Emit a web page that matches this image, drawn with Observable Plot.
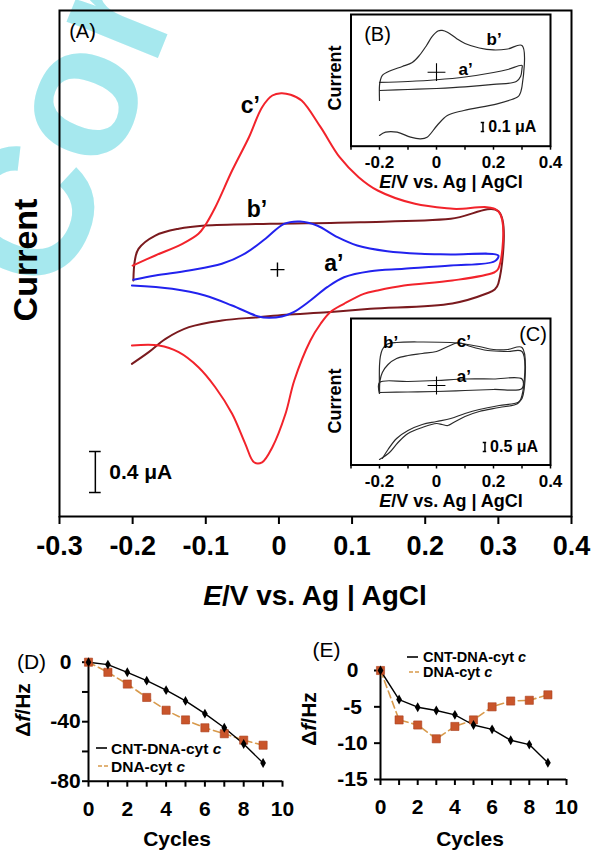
<!DOCTYPE html>
<html><head><meta charset="utf-8">
<script src="https://cdn.jsdelivr.net/npm/d3@7"></script>
<script src="https://cdn.jsdelivr.net/npm/@observablehq/plot@0.6"></script>
<style>
body{margin:0;background:#fff;}
#wrap{position:relative;width:591px;height:850px;overflow:hidden;background:#fff;}
#wrap > div{position:absolute;}
#wrap svg{overflow:visible;}
</style></head><body><div id="wrap"></div>
<script>
// ---------- Panel A: cyclic voltammograms (E in V, I in μA) ----------
const redE = [-0.200,-0.169,-0.132,-0.110,-0.101,-0.087,-0.064,-0.041,-0.023,-0.009,0.003,0.016,0.031,0.057,0.083,0.109,0.135,0.186,0.238,0.300,0.300,0.294,0.237,0.171,0.135,0.116,0.089,0.070,0.057,0.043,0.021,0.009,-0.009,-0.023,-0.034,-0.046,-0.064,-0.087,-0.110,-0.137,-0.164,-0.201];
const redI = [-0.020,0.078,0.192,0.290,0.371,0.549,0.907,1.232,1.525,1.639,1.661,1.646,1.590,1.330,1.037,0.842,0.712,0.582,0.534,0.510,-0.050,-0.088,-0.166,-0.215,-0.263,-0.296,-0.393,-0.475,-0.588,-0.751,-1.141,-1.466,-1.792,-1.939,-1.939,-1.759,-1.466,-1.207,-1.012,-0.865,-0.800,-0.800];
const darkE = [-0.199,-0.197,-0.192,-0.169,-0.137,-0.101,-0.012,0.111,0.235,0.300,0.300,0.295,0.284,0.237,0.125,0.066,0.009,-0.028,-0.078,-0.123,-0.155,-0.178,-0.201];
const darkI = [-0.166,0.029,0.143,0.273,0.339,0.371,0.387,0.403,0.436,0.510,-0.195,-0.254,-0.293,-0.390,-0.442,-0.475,-0.500,-0.524,-0.556,-0.621,-0.735,-0.865,-0.979];
const blueE = [-0.199,-0.169,-0.123,-0.078,-0.046,-0.018,0.007,0.029,0.052,0.080,0.107,0.148,0.194,0.235,0.300,0.295,0.235,0.171,0.125,0.089,0.066,0.043,0.020,0.004,-0.014,-0.028,-0.064,-0.101,-0.146,-0.201];
const blueI = [-0.159,-0.117,-0.068,-0.003,0.098,0.244,0.387,0.410,0.371,0.257,0.176,0.120,0.095,0.088,0.078,0.022,-0.020,-0.052,-0.075,-0.134,-0.231,-0.361,-0.475,-0.517,-0.530,-0.517,-0.410,-0.312,-0.247,-0.215];
const labelsA = [{E:-0.039, I:1.537, t:"c’"}, {E:-0.030, I:0.527, t:"b’"}, {E:0.075, I:-0.005, t:"a’"}];
const crossA = [{E:-0.002, I:-0.06}];
const scaleA = {E:-0.251, I0:-2.234, step:0.4, label:"0.4 μA", textE:-0.232};
const ticksA = [-0.3,-0.2,-0.1,0,0.1,0.2,0.3,0.4];

// ---------- Inset B ----------
const bBE = [-0.200,-0.200,-0.197,-0.190,-0.160,-0.120,-0.085,-0.060,-0.035,-0.015,0.005,0.020,0.040,0.070,0.100,0.150,0.200,0.250,0.300,0.300,0.290,0.283,0.213,0.096,0.038,0.002,-0.033,-0.056,-0.091,-0.138,-0.179,-0.200];
const bBI = [-0.222,-0.056,0.000,0.056,0.111,0.156,0.200,0.278,0.389,0.489,0.550,0.556,0.533,0.467,0.411,0.361,0.339,0.350,0.389,-0.067,-0.167,-0.186,-0.259,-0.333,-0.389,-0.500,-0.630,-0.648,-0.630,-0.574,-0.574,-0.611];
const aBE = [-0.200,-0.100,0.000,0.100,0.200,0.250,0.300,0.300,0.295,0.280,0.200,0.100,0.000,-0.100,-0.200];
const aBI = [-0.022,-0.011,0.008,0.039,0.089,0.122,0.167,0.133,0.044,-0.011,-0.044,-0.072,-0.089,-0.100,-0.111];
const labelsB = [{E:0.202, I:0.456, t:"b’"}, {E:0.102, I:0.122, t:"a’"}];
const crossB = [{E:0.0, I:0.092}];
const scaleB = {E:0.163, I0:-0.567, step:0.1, label:"0.1 μA", textE:0.182};

// ---------- Inset C ----------
const cCE = [-0.200,-0.198,-0.190,-0.170,-0.140,-0.100,-0.050,0.000,0.040,0.070,0.090,0.120,0.180,0.250,0.300,0.300,0.285,0.220,0.150,0.100,0.060,0.040,0.020,0.000,-0.050,-0.100,-0.135,-0.165,-0.200];
const cCI = [-0.028,0.639,1.083,1.528,1.861,2.028,2.139,2.250,2.528,2.722,2.694,2.528,2.306,2.250,2.250,-0.194,-0.639,-0.861,-1.083,-1.361,-1.694,-1.861,-1.806,-1.750,-1.972,-2.306,-2.806,-3.361,-3.750];
const bCE = [-0.200,-0.200,-0.197,-0.190,-0.175,-0.140,-0.050,0.050,0.100,0.150,0.200,0.250,0.300,0.300,0.285,0.220,0.150,0.100,0.050,0.000,-0.050,-0.100,-0.140,-0.170,-0.190];
const bCI = [-0.083,1.472,1.972,2.361,2.639,2.750,2.778,2.750,2.667,2.528,2.361,2.361,2.472,-0.361,-0.583,-0.750,-0.972,-1.194,-1.472,-1.639,-1.806,-2.139,-2.583,-3.194,-3.694];
const aCE = [-0.200,-0.200,-0.100,0.000,0.100,0.200,0.300,0.300,0.200,0.100,0.000,-0.100,-0.200];
const aCI = [-0.083,0.528,0.583,0.639,0.722,0.722,0.722,0.194,0.139,0.083,0.028,0.000,-0.028];
const labelsC = [{E:-0.161, I:2.72, t:"b’"}, {E:0.096, I:2.78, t:"c’"}, {E:0.096, I:0.86, t:"a’"}];
const crossC = [{E:0.0, I:0.36}];
const scaleC = {E:0.170, I0:-3.306, step:0.5, label:"0.5 μA", textE:0.188};
const ticksInset = [-0.3,-0.2,-0.1,0,0.1,0.2,0.3,0.4];
const labelledInset = [-0.2,0,0.2,0.4];

// ---------- Panels D and E: frequency shift vs cycles ----------
const cycles = [0,1,2,3,4,5,6,7,8,9];
const dCNT = [0,-1.6,-6.8,-12.4,-18.8,-26.0,-34.6,-44.1,-55.0,-67.8];
const dDNA = [0,-6.8,-14.7,-23.7,-32.3,-38.8,-44.1,-48.1,-52.4,-55.8];
const eCNT = [0,-4.0,-5.05,-5.5,-6.1,-7.5,-8.1,-9.6,-10.2,-12.7];
const eDNA = [0,-6.8,-7.5,-9.4,-7.7,-6.8,-5.0,-4.2,-4.1,-3.35];
const seriesNames = ["CNT-DNA-cyt ", "DNA-cyt "];
const dTicksY = [0,-20,-40,-60,-80];
const dLabelsY = [0,-40,-80];
const eTicksY = [0,-5,-10,-15];
const eLabelsY = [0,-5,-10,-15];
const cycleTicks = [0,1,2,3,4,5,6,7,8,9,10];

// ---------- styles ----------
const FONT = "'Liberation Sans', Arial, Helvetica, sans-serif";
const RED = "#f2232b", BLUE = "#2222ee", DARK = "#7a1a1e", GREY = "#2a2a2a";
const SQ = "#c9552b", DASH = "#d89a4c";
const wrap = document.getElementById("wrap");
function place(node, left, top) {
  const d = document.createElement("div");
  d.style.left = left + "px"; d.style.top = top + "px";
  d.appendChild(node); wrap.appendChild(d); return node;
}
const pts = (E, I) => E.map((e, i) => ({E: e, I: I[i]}));
const fmtV = d => Math.abs(d) < 1e-9 ? "0" : d.toFixed(1);
const baseStyle = {fontFamily: FONT, background: "transparent", overflow: "visible", color: "black", fontWeight: "bold"};

// watermark layer
const wm = d3.create("svg").attr("width", 591).attr("height", 850);
wm.append("text").attr("transform", "translate(60,300) rotate(-68)")
  .attr("font-family", FONT).attr("font-size", 186).attr("font-weight", "bold").attr("fill", "#a6e8ee").text("Corrected Proof");
place(wm.node(), 0, 0);

function scaleBar(s, dx, size) {
  return [
    Plot.ruleX([s.E], {y1: s.I0, y2: s.I0 + s.step, stroke: "black", strokeWidth: 1.5}),
    Plot.ruleY([s.I0, s.I0 + s.step], {x1: s.E - dx, x2: s.E + dx, stroke: "black", strokeWidth: 1.5}),
    Plot.text([s], {x: "textE", y: d => d.I0 + d.step / 2, text: "label", textAnchor: "start", fontWeight: "bold", fontSize: size})
  ];
}

// ---------- Panel A ----------
const plotA = Plot.plot({
  width: 591, height: 620, marginLeft: 59, marginRight: 20, marginTop: 10, marginBottom: 104,
  style: {...baseStyle, fontSize: "27px"},
  x: {domain: [-0.3, 0.4]},
  y: {domain: [-2.468, 2.468], axis: null},
  marks: [
    Plot.axisX({ticks: ticksA, tickFormat: fmtV, tickSize: 8, tickPadding: 11, strokeWidth: 2, fontSize: 27, fontWeight: "bold", label: null}),
    Plot.line(pts(darkE, darkI), {x: "E", y: "I", stroke: DARK, strokeWidth: 2, curve: "catmull-rom"}),
    Plot.line(pts(blueE, blueI), {x: "E", y: "I", stroke: BLUE, strokeWidth: 2, curve: "catmull-rom"}),
    Plot.line(pts(redE, redI), {x: "E", y: "I", stroke: RED, strokeWidth: 2, curve: "catmull-rom"}),
    Plot.text(labelsA, {x: "E", y: "I", text: "t", fontSize: 23, fontWeight: "bold"}),
    Plot.dot(crossA, {x: "E", y: "I", symbol: "plus", r: 4.6, stroke: "black", strokeWidth: 1.4}),
    ...scaleBar(scaleA, 0.008, 21),
    Plot.frame({stroke: "black", strokeWidth: 2})
  ]
});
place(plotA, 0, 0);

function inset(curves, labels, cross, scale, yDomain, h, mTop, mBottom) {
  return Plot.plot({
    width: 240, height: h, marginLeft: 20.5, marginRight: 20, marginTop: mTop, marginBottom: mBottom,
    style: {...baseStyle, fontSize: "17px"},
    x: {domain: [-0.3, 0.4]},
    y: {domain: yDomain, axis: null},
    marks: [
      Plot.axisX({ticks: ticksInset, tickFormat: d => labelledInset.some(v => Math.abs(v - d) < 1e-9) ? fmtV(d) : "", tickSize: 4, tickPadding: 6, strokeWidth: 1.5, fontSize: 17, fontWeight: "bold", label: null}),
      ...curves.map(c => Plot.line(c, {x: "E", y: "I", stroke: GREY, strokeWidth: 1.2, curve: "catmull-rom"})),
      Plot.text(labels, {x: "E", y: "I", text: "t", fontSize: 17, fontWeight: "bold"}),
      Plot.dot(cross, {x: "E", y: "I", symbol: "plus", r: 5.8, stroke: "black", strokeWidth: 1.1}),
      ...scaleBar(scale, 0.006, 16),
      Plot.frame({stroke: "black", strokeWidth: 2})
    ]
  });
}
const plotB = inset([pts(bBE, bBI), pts(aBE, aBI)], labelsB, crossB, scaleB, [-0.730, 0.733], 195, 14, 49.3);
place(plotB, 330, 0);
const plotC = inset([pts(cCE, cCI), pts(bCE, bCI), pts(aCE, aCI)], labelsC, crossC, scaleC, [-4.056, 4.083], 210, 18, 45.5);
place(plotC, 330, 300);

// ---------- Panels D and E ----------
function qcm(cnt, dna, yDomain, yTicks, yLabels, opts) {
  const a = cycles.map((c, i) => ({c, v: cnt[i]}));
  const b = cycles.map((c, i) => ({c, v: dna[i]}));
  return Plot.plot({
    width: opts.w, height: 220, marginLeft: opts.ml, marginRight: opts.mr, marginTop: opts.mt, marginBottom: opts.mb,
    style: {...baseStyle, fontSize: "21px"},
    x: {domain: [0, 10]},
    y: {domain: yDomain},
    marks: [
      Plot.axisX({ticks: cycleTicks, tickFormat: d => d % 2 === 0 ? String(d) : "", tickSize: 6, tickPadding: 14, strokeWidth: 2, fontSize: 21, fontWeight: "bold", label: null}),
      Plot.axisY({ticks: yTicks, tickFormat: () => "", tickSize: 6, tickPadding: 3, strokeWidth: 2, label: null}),
      Plot.text(yLabels, {x: 0, y: d => d, text: d => String(d), dx: opts.labelDx, textAnchor: "middle", fontSize: 21, fontWeight: "bold"}),
      Plot.ruleX([0], {y1: yDomain[0], y2: yDomain[1] + opts.over, stroke: "black", strokeWidth: 2}),
      Plot.ruleY([yDomain[0]], {x1: 0, x2: 10, stroke: "black", strokeWidth: 2}),
      Plot.line(b, {x: "c", y: "v", stroke: DASH, strokeWidth: 1.6, strokeDasharray: "7,4"}),
      Plot.line(a, {x: "c", y: "v", stroke: "black", strokeWidth: 1.4}),
      Plot.dot(b, {x: "c", y: "v", symbol: "square", r: 4.6, fill: SQ, stroke: "#a9401f", strokeWidth: 0.6}),
      Plot.dot(a, {x: "c", y: "v", symbol: "diamond", r: 3, fill: "black"})
    ]
  });
}
const plotD = qcm(dCNT, dDNA, [-80, 0], dTicksY, dLabelsY, {w: 300, ml: 88, mr: 18, mt: 31.7, mb: 69.3, over: 2, labelDx: -23});
place(plotD, 0, 630);
const plotE = qcm(eCNT, eDNA, [-15, 0], eTicksY, eLabelsY, {w: 296, ml: 85, mr: 25, mt: 40, mb: 71, over: 0.3, labelDx: -28});
place(plotE, 295, 630);

// ---------- text overlay ----------
const ov = d3.create("svg").attr("width", 591).attr("height", 850);
function txt(x, y, parts, o = {}) {
  const t = ov.append("text").attr("transform", `translate(${x},${y}) rotate(${o.rotate || 0})`)
    .attr("text-anchor", o.anchor || "middle").attr("font-size", o.size || 16)
    .attr("font-weight", o.weight || "bold").attr("font-family", FONT).attr("fill", "black");
  for (const p of [].concat(parts)) {
    if (typeof p === "string") t.append("tspan").text(p);
    else t.append("tspan").attr("font-style", "italic").text(p.i);
  }
  return t;
}
const axisTitle = [{i: "E"}, "/V vs. Ag | AgCl"];
txt(82.5, 38, "(A)", {size: 20, weight: "normal"});
txt(37, 260, "Current", {size: 34, rotate: -90});
txt(315, 605, axisTitle, {size: 28});
txt(377.5, 41, "(B)", {size: 20, weight: "normal"});
txt(341, 78, "Current", {size: 18, rotate: -90});
txt(451, 188, axisTitle, {size: 18});
txt(533, 341, "(C)", {size: 20, weight: "normal"});
txt(341, 401, "Current", {size: 18, rotate: -90});
txt(451, 507, axisTitle, {size: 18});
// D
txt(31.5, 669, "(D)", {size: 21, weight: "normal"});
txt(30, 710, ["Δ", {i: "f"}, "/Hz"], {size: 21, rotate: -90});
txt(177, 846, "Cycles", {size: 21});
// E
txt(326.5, 657, "(E)", {size: 21, weight: "normal"});
txt(316, 719, ["Δ", {i: "f"}, "/Hz"], {size: 21, rotate: -90});
txt(470, 846, "Cycles", {size: 21});
// legends
function legend(x, y, dy, tx, size) {
  ov.append("line").attr("x1", x).attr("x2", x + 11).attr("y1", y).attr("y2", y).attr("stroke", "black").attr("stroke-width", 1.6);
  ov.append("line").attr("x1", x + 2).attr("x2", x + 12).attr("y1", y + dy).attr("y2", y + dy).attr("stroke", DASH).attr("stroke-width", 1.6).attr("stroke-dasharray", "4,2");
  txt(x + tx, y + size * 0.36, [seriesNames[0], {i: "c"}], {size, anchor: "start"});
  txt(x + tx, y + dy + size * 0.36, [seriesNames[1], {i: "c"}], {size, anchor: "start"});
}
legend(96, 748, 18, 15, 15.5);
legend(407, 657, 15, 16, 14.5);
place(ov.node(), 0, 0);
</script>
</body></html>
